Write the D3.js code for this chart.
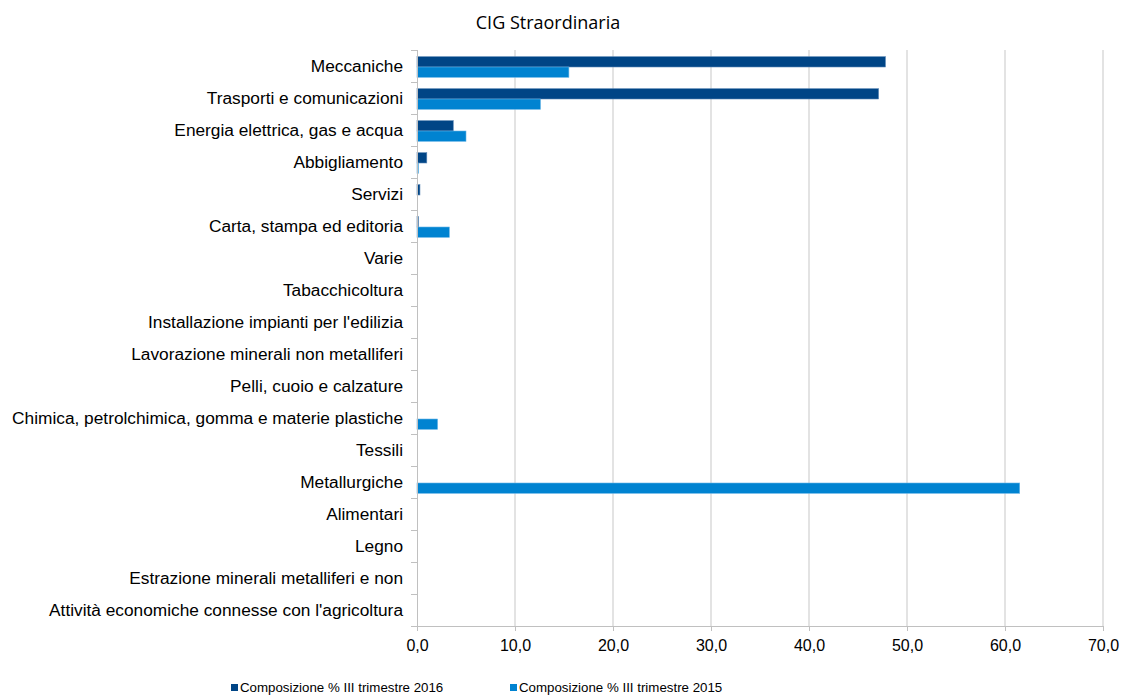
<!DOCTYPE html>
<html>
<head>
<meta charset="utf-8">
<script src="https://cdn.jsdelivr.net/npm/d3@7"></script>
<style>
  body { margin: 0; background: #fff; }
  svg { display: block; }
</style>
</head>
<body>
<svg id="chart" width="1123" height="696"></svg>
<script>
// Sectors, top to bottom
const categories = [
  "Meccaniche",
  "Trasporti e comunicazioni",
  "Energia elettrica, gas e acqua",
  "Abbigliamento",
  "Servizi",
  "Carta, stampa ed editoria",
  "Varie",
  "Tabacchicoltura",
  "Installazione impianti per l'edilizia",
  "Lavorazione minerali non metalliferi",
  "Pelli, cuoio e calzature",
  "Chimica, petrolchimica, gomma e materie plastiche",
  "Tessili",
  "Metallurgiche",
  "Alimentari",
  "Legno",
  "Estrazione minerali metalliferi e non",
  "Attività economiche connesse con l'agricoltura"
];
const values2016 = [47.8, 47.1, 3.7, 1.0, 0.3, 0.15, 0, 0, 0, 0, 0, 0, 0, 0, 0, 0, 0, 0];
const values2015 = [15.5, 12.6, 5.0, 0.15, 0, 3.3, 0, 0, 0, 0, 0, 2.1, 0, 61.5, 0, 0, 0, 0];
const seriesNames = ["Composizione % III trimestre 2016", "Composizione % III trimestre 2015"];
const seriesColors = ["#004586", "#0083d1"];
const xTicks = [0, 10, 20, 30, 40, 50, 60, 70];

const svg = d3.select("#chart");
const margin = { left: 417, right: 20, top: 50, bottom: 70 };
const W = 1123, H = 696;
const x = d3.scaleLinear().domain([0, 70]).range([margin.left, W - margin.right]);
const y = d3.scaleBand().domain(categories).range([margin.top, H - margin.bottom]);
const inner = d3.scaleBand().domain([0, 1]).range([1, y.bandwidth() + 1]).paddingOuter(0.55).paddingInner(0);

const fmt = v => d3.format(".1f")(v).replace(".", ",");
const sans = "'Liberation Sans', Arial, sans-serif";

// Title
svg.append("text")
  .attr("x", 548).attr("y", 29)
  .attr("text-anchor", "middle")
  .attr("font-family", "'Open Sans', sans-serif")
  .attr("font-size", 18)
  .attr("fill", "#000")
  .text("CIG Straordinaria");

// Vertical grid lines
svg.append("g")
  .selectAll("line")
  .data(xTicks.slice(1))
  .join("line")
  .attr("x1", d => x(d)).attr("x2", d => x(d))
  .attr("y1", margin.top).attr("y2", H - margin.bottom)
  .attr("stroke", "#d0d0d0").attr("stroke-width", 1.2);

// Bars
const series = [values2016, values2015];
series.forEach((vals, si) => {
  svg.append("g")
    .selectAll("rect")
    .data(categories.map((c, i) => ({ c, v: vals[i] })).filter(d => d.v > 0))
    .join("rect")
    .attr("x", x(0))
    .attr("y", d => y(d.c) + inner(si))
    .attr("width", d => x(d.v) - x(0))
    .attr("height", inner.bandwidth())
    .attr("fill", seriesColors[si])
    .attr("stroke", si === 0 ? "#5a86b5" : "#66b4e6")
    .attr("stroke-width", 0.6);
});

// Bottom axis
const xAxis = svg.append("g")
  .attr("transform", `translate(0,${H - margin.bottom})`)
  .call(d3.axisBottom(x).tickValues(xTicks).tickFormat(fmt).tickSize(5).tickSizeOuter(0));
xAxis.select(".domain").attr("stroke", "#c0c0c0").attr("d", `M${x(0) - 6},0.5H${x(70)}`);
xAxis.selectAll(".tick line").attr("stroke", "#c0c0c0");
xAxis.selectAll(".tick text")
  .attr("font-family", sans)
  .attr("font-size", 16)
  .attr("fill", "#000")
  .attr("y", 14)
  .attr("dy", "0.71em");

// Left axis with ticks at band boundaries
const yAxis = svg.append("g").attr("transform", `translate(${x(0)},0)`);
yAxis.append("line")
  .attr("x1", 0.5).attr("x2", 0.5)
  .attr("y1", margin.top).attr("y2", H - margin.bottom)
  .attr("stroke", "#c0c0c0");
yAxis.selectAll("line.tk")
  .data(categories)
  .join("line")
  .attr("class", "tk")
  .attr("x1", -6).attr("x2", 0)
  .attr("y1", d => y(d) + 0.5).attr("y2", d => y(d) + 0.5)
  .attr("stroke", "#c0c0c0");
yAxis.selectAll("text")
  .data(categories)
  .join("text")
  .attr("x", -14)
  .attr("y", d => y(d) + y.bandwidth() / 2 + 1.5)
  .attr("text-anchor", "end")
  .attr("dominant-baseline", "middle")
  .attr("font-family", sans)
  .attr("font-size", 17.3)
  .attr("fill", "#000")
  .text(d => d);

// Legend
const legendX = [231, 510];
const legend = svg.append("g");
seriesNames.forEach((n, i) => {
  legend.append("rect")
    .attr("x", legendX[i]).attr("y", 684)
    .attr("width", 7).attr("height", 7)
    .attr("fill", seriesColors[i]);
  legend.append("text")
    .attr("x", legendX[i] + 9).attr("y", 692)
    .attr("font-family", sans)
    .attr("font-size", 13.3)
    .attr("fill", "#000")
    .text(n);
});
</script>
</body>
</html>
